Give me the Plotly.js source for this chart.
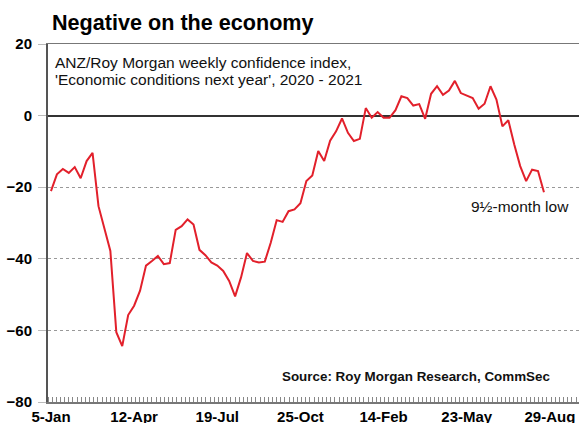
<!DOCTYPE html>
<html>
<head>
<meta charset="utf-8">
<script src="https://cdn.plot.ly/plotly-3.0.1.min.js"></script>
<style>html,body{margin:0;padding:0;background:#fff;}#chart{width:579px;height:423px;}</style>
</head>
<body>
<div id="chart"></div>
<script>
// Weekly index values, 5-Jan-2020 onward (84 weekly readings)
const weekIndex = Array.from({length: 84}, (_, i) => i);
const confidence = [
  -21.1, -16.4, -14.9, -16.0, -14.4, -17.5, -12.7, -10.4, -25.3, -31.3,
  -37.8, -60.5, -64.4, -55.7, -53.1, -48.9, -41.9, -40.6, -39.2, -41.5,
  -41.2, -31.9, -30.9, -29.0, -30.4, -37.5, -39.0, -41.0, -41.9, -43.4,
  -46.2, -50.5, -45.2, -38.4, -40.6, -41.0, -40.8, -35.5, -29.2, -29.7,
  -26.7, -26.2, -24.5, -18.3, -16.7, -9.9, -12.7, -7.0, -4.4, -0.8,
  -4.8, -7.1, -6.5, 2.1, -0.6, 1.0, -0.6, -0.6, 1.5, 5.4,
  4.9, 2.8, 3.2, -0.9, 6.1, 8.2, 5.8, 7.0, 9.7, 6.3,
  5.7, 4.9, 1.9, 3.3, 8.2, 4.5, -3.0, -1.3, -8.1, -14.1,
  -18.3, -15.1, -15.5, -21.4
];
const tickPositions = [0, 14, 28, 42, 56, 70, 84];
const tickLabels = ['5-Jan', '12-Apr', '19-Jul', '25-Oct', '14-Feb', '23-May', '29-Aug'];
const yTicks = [-80, -60, -40, -20, 0, 20];

const FONT = '"Liberation Sans", Arial, sans-serif';

const trace = {
  x: weekIndex, y: confidence, type: 'scatter', mode: 'lines',
  line: {color: '#e2202b', width: 2}, hoverinfo: 'skip', showlegend: false
};

const layout = {
  width: 579, height: 423,
  margin: {l: 48, r: 0, t: 44, b: 21},
  paper_bgcolor: '#fff', plot_bgcolor: '#fff',
  font: {family: FONT, color: '#000'},
  title: {
    text: '<b>Negative on the economy</b>',
    font: {family: FONT, size: 21.6, color: '#000'},
    xref: 'container', yref: 'container',
    x: 52/579, xanchor: 'left', y: 1 - 22/423, yanchor: 'middle'
  },
  xaxis: {
    type: 'linear', range: [-0.5, 88.9], automargin: false,
    tickvals: tickPositions, ticktext: tickLabels,
    tickfont: {family: FONT, size: 15, color: '#000', weight: 'bold'},
    showgrid: false, zeroline: false,
    showline: true, linecolor: '#777', linewidth: 1.5, mirror: true,
    ticks: '', ticklabelstandoff: 0,
    minor: {tick0: -0.5, dtick: 0.7, ticks: 'inside', ticklen: 5, tickcolor: '#888', tickwidth: 1, showgrid: false}
  },
  yaxis: {
    range: [-80, 20], automargin: false,
    tickvals: yTicks,
    tickfont: {family: FONT, size: 15, color: '#000', weight: 'bold'},
    showgrid: true, gridcolor: '#999', griddash: 'dot', gridwidth: 1,
    zeroline: true, zerolinecolor: '#333', zerolinewidth: 2,
    showline: true, linecolor: '#555', linewidth: 2,
    ticks: 'outside', ticklen: 8, tickcolor: '#bbb', tickwidth: 1,
    ticklabelstandoff: 3
  },
  annotations: [
    {text: 'ANZ/Roy Morgan weekly confidence index,', xref: 'paper', yref: 'paper',
     x: 5/531, xanchor: 'left', y: (402 - 62)/358, yanchor: 'middle', showarrow: false,
     font: {family: FONT, size: 15.5, color: '#111'}},
    {text: "'Economic conditions next year', 2020 - 2021", xref: 'paper', yref: 'paper',
     x: 5/531, xanchor: 'left', y: (402 - 79.5)/358, yanchor: 'middle', showarrow: false,
     font: {family: FONT, size: 15.5, color: '#111'}},
    {text: '9½-month low', xref: 'paper', yref: 'paper',
     x: (469 - 48)/531, xanchor: 'left', y: (402 - 206.5)/358, yanchor: 'middle', showarrow: false,
     font: {family: FONT, size: 15.5, color: '#111'}},
    {text: '<b>Source: Roy Morgan Research, CommSec</b>', xref: 'paper', yref: 'paper',
     x: (280 - 48)/531, xanchor: 'left', y: (402 - 376.5)/358, yanchor: 'middle', showarrow: false,
     font: {family: FONT, size: 13.4, color: '#111'}}
  ]
};

Plotly.newPlot('chart', [trace], layout, {staticPlot: true, displayModeBar: false});
</script>
</body>
</html>
